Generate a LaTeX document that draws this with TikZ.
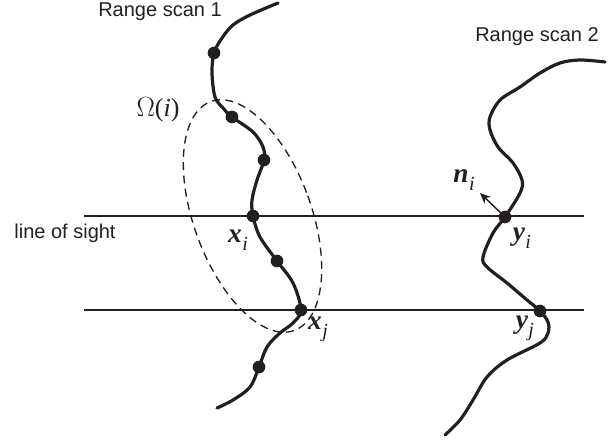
\documentclass[tikz,border=0pt]{standalone}
\usepackage{fontspec}
\setmainfont{Liberation Sans}
\newfontfamily\tnr{Liberation Serif}
\usetikzlibrary{arrows.meta}
\definecolor{ink}{RGB}{35,31,32}
\newcommand\mlbl[2]{{\tnr\fontsize{20.5}{20.5}\selectfont\bfseries\itshape #1\kern0.3pt\raisebox{-0.3em}{\mdseries\fontsize{15}{15}\selectfont #2}}}
\begin{document}
\begin{tikzpicture}[x=0.75pt,y=-0.75pt,
  scan/.style={line width=2.4pt, draw=ink, line cap=round, line join=round},
  los/.style={line width=1.1pt, draw=ink},
  region/.style={draw=ink, line width=1pt, dash pattern=on 6pt off 4pt},
  dot/.style={circle, fill=ink, inner sep=0pt, minimum size=9.5pt},
  sans/.style={font=\fontsize{15}{18}\selectfont, text=ink, inner sep=0pt},
  mathl/.style={text=ink, inner sep=0pt}]
\useasboundingbox (0,0) rectangle (609,442);

% lines of sight
\coordinate (l1a) at (84,216);
\coordinate (l1b) at (584,216);
\coordinate (l2a) at (84,310);
\coordinate (l2b) at (584,310);
\draw[los] (l1a) -- (l1b);
\draw[los] (l2a) -- (l2b);

% neighbourhood
\coordinate (C) at (252.5,216);
\draw[region, rotate around={20:(C)}] (C) ellipse [x radius=58.8, y radius=121.8];

% scan 1 points
\coordinate (d1) at (214,53);
\coordinate (d2) at (232,117);
\coordinate (d3) at (264,160);
\coordinate (d4) at (253,216);
\coordinate (d5) at (277,261);
\coordinate (d6) at (301,310);
\coordinate (d7) at (259,367);
\draw[scan] plot[smooth, tension=0.55] coordinates {
  (278,3) (250,15) (233,25) (222,38) (d1) (212,73) (215,97) (223,108) (d2)
  (253,132) (263,147) (d3) (257,180) (252,200) (d4) (260,237) (d5) (293,283)
  (d6) (293,323) (280,333) (267,347) (d7) (250,387) (233,400) (217,408)};

% scan 2 points
\coordinate (e1) at (505,217);
\coordinate (e2) at (540,311);
\draw[scan] plot[smooth, tension=0.55] coordinates {
  (605,62) (580,60) (560,63) (540,73) (520,87) (500,100) (490,117) (490,130)
  (498,147) (513,163) (522,180) (520,193) (e1) (493,233) (483,257) (487,267)
  (507,283) (527,300) (e2) (548,322) (548,333) (540,343) (507,360) (487,377)
  (473,400) (460,420) (445,435)};

% dots
\foreach \n in {d1,d2,d3,d4,d5,d6,d7,e1,e2} \node[dot] (\n n) at (\n) {};

% normal
\coordinate (ntip) at (480,193);
\draw[line width=1.1pt, draw=ink, -{Stealth[length=8pt,width=7pt]}] (e1) -- (ntip);

% labels
\node[sans] (rs1) at (160,12) {Range scan 1};
\node[sans] (rs2) at (537,37) {Range scan 2};
\node[sans] (los) at (65,233) {line of sight};
\node[mathl] (om) at (158,110) {\tnr\fontsize{19.5}{19.5}\selectfont \(\Omega\)(\textit{i})};
\node[mathl] (xi) at (238,240) {\mlbl{x}{i}};
\node[mathl] (xj) at (318,329) {\mlbl{x}{j}};
\node[mathl] (yi) at (522,238) {\mlbl{y}{i}};
\node[mathl] (yj) at (525,328) {\mlbl{y}{j}};
\node[mathl] (ni) at (464,180) {\mlbl{n}{i}};
\end{tikzpicture}
\end{document}
